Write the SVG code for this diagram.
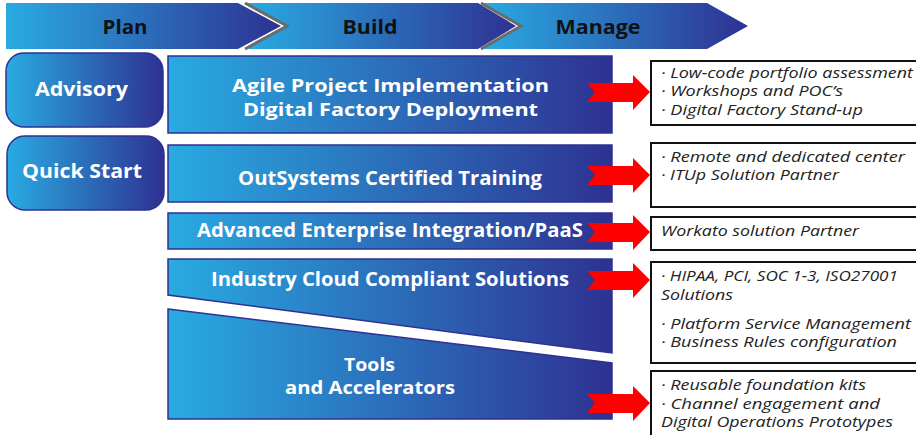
<svg xmlns="http://www.w3.org/2000/svg" width="916" height="435" viewBox="0 0 916 435">
<defs>
<linearGradient id="g" x1="0" y1="0" x2="1" y2="0">
<stop offset="0" stop-color="#29ABE2"/>
<stop offset="1" stop-color="#2E3192"/>
</linearGradient>
<path id="arr" d="M0,-9 L46,-9 L46,-17 L63,0 L46,18 L46,10 L0,10 L8,0 Z" fill="#FF0000"/>
</defs>
<style>
.hd{font-family:"Open Sans","DejaVu Sans",sans-serif;font-weight:700;font-size:20px;fill:#111;text-anchor:middle}
.bx{fill:url(#g);stroke:#2E3192;stroke-width:1.5}
.wt{font-family:"Open Sans","DejaVu Sans",sans-serif;font-weight:700;font-size:20px;fill:#fff;text-anchor:middle}
.w2{font-size:18.5px}
.nb{fill:#fff;stroke:#111;stroke-width:2}
.it{font-family:"Open Sans","DejaVu Sans",sans-serif;font-style:italic;font-size:14.5px;fill:#222}
</style>
<rect width="916" height="435" fill="#fff"/>
<g id="phases">
<polygon points="6,3 238,3 281,26 238,49 6,49" fill="url(#g)"/>
<polygon points="246,3 478,3 516,26 478,49 246,49 288,26" fill="url(#g)"/>
<polyline points="245,3 287,26 245,49" fill="none" stroke="#6b6b6b" stroke-width="3"/>
<polygon points="482,3 707,3 748,26 707,49 482,49 522,26" fill="url(#g)"/>
<polyline points="481,3 521,26 481,49" fill="none" stroke="#6b6b6b" stroke-width="3"/>
<text class="hd" x="125" y="34" textLength="45" lengthAdjust="spacingAndGlyphs">Plan</text>
<text class="hd" x="370" y="34" textLength="55" lengthAdjust="spacingAndGlyphs">Build</text>
<text class="hd" x="598" y="34" textLength="85" lengthAdjust="spacingAndGlyphs">Manage</text>
</g>
<g id="advisory">
<rect class="bx" x="6" y="53" width="157" height="74" rx="18"/>
<text class="wt" x="81.5" y="96" textLength="93" lengthAdjust="spacingAndGlyphs">Advisory</text>
</g>
<g id="quickstart">
<rect class="bx" x="7" y="136" width="157" height="74" rx="18"/>
<text class="wt" x="82" y="178" textLength="120" lengthAdjust="spacingAndGlyphs">Quick Start</text>
</g>
<g id="agile">
<rect class="bx" x="168" y="56" width="444" height="77"/>
<text class="wt w2" x="390.5" y="92" textLength="317" lengthAdjust="spacingAndGlyphs">Agile Project Implementation</text>
<text class="wt w2" x="390.5" y="116" textLength="295" lengthAdjust="spacingAndGlyphs">Digital Factory Deployment</text>
</g>
<g id="training">
<rect class="bx" x="168" y="145" width="444" height="57"/>
<text class="wt" x="390" y="185" textLength="304" lengthAdjust="spacingAndGlyphs">OutSystems Certified Training</text>
</g>
<g id="integration">
<rect class="bx" x="168" y="213" width="444" height="36"/>
<text class="wt" x="390" y="237" textLength="386" lengthAdjust="spacingAndGlyphs">Advanced Enterprise Integration/PaaS</text>
</g>
<g id="industry">
<polygon class="bx" points="168,259 612,259 612,353 168,295"/>
<text class="wt" x="390" y="286" textLength="358" lengthAdjust="spacingAndGlyphs">Industry Cloud Compliant Solutions</text>
</g>
<g id="tools">
<polygon class="bx" points="168,309 612,363 612,419 168,419"/>
<text class="wt w2" x="369.5" y="371" textLength="51" lengthAdjust="spacingAndGlyphs">Tools</text>
<text class="wt w2" x="370" y="394" textLength="170" lengthAdjust="spacingAndGlyphs">and Accelerators</text>
</g>
<g id="connectors">
<use href="#arr" x="587" y="92"/>
<use href="#arr" x="587" y="175"/>
<use href="#arr" x="587" y="232"/>
<use href="#arr" x="587" y="280"/>
<use href="#arr" x="587" y="403"/>
</g>
<g id="note1">
<rect class="nb" x="651" y="61" width="270" height="64"/>
<text class="it" x="661" y="78" textLength="252" lengthAdjust="spacingAndGlyphs">· Low-code portfolio assessment</text>
<text class="it" x="661" y="96" textLength="182" lengthAdjust="spacingAndGlyphs">· Workshops and POC’s</text>
<text class="it" x="661" y="115" textLength="202" lengthAdjust="spacingAndGlyphs">· Digital Factory Stand-up</text>
</g>
<g id="note2">
<rect class="nb" x="651" y="143" width="270" height="64"/>
<text class="it" x="661" y="162" textLength="244" lengthAdjust="spacingAndGlyphs">· Remote and dedicated center</text>
<text class="it" x="661" y="180" textLength="178" lengthAdjust="spacingAndGlyphs">· ITUp Solution Partner</text>
</g>
<g id="note3">
<rect class="nb" x="651" y="217" width="270" height="33"/>
<text class="it" x="661" y="236" textLength="198" lengthAdjust="spacingAndGlyphs">Workato solution Partner</text>
</g>
<g id="note4">
<rect class="nb" x="651" y="262" width="270" height="101"/>
<text class="it" x="661" y="281" textLength="237" lengthAdjust="spacingAndGlyphs">· HIPAA, PCI, SOC 1-3, ISO27001</text>
<text class="it" x="661" y="300" textLength="72" lengthAdjust="spacingAndGlyphs">Solutions</text>
<text class="it" x="661" y="329" textLength="250" lengthAdjust="spacingAndGlyphs">· Platform Service Management</text>
<text class="it" x="661" y="347" textLength="236" lengthAdjust="spacingAndGlyphs">· Business Rules configuration</text>
</g>
<g id="note5">
<rect class="nb" x="651" y="371" width="270" height="70"/>
<text class="it" x="661" y="390" textLength="205" lengthAdjust="spacingAndGlyphs">· Reusable foundation kits</text>
<text class="it" x="661" y="409" textLength="219" lengthAdjust="spacingAndGlyphs">· Channel engagement and</text>
<text class="it" x="661" y="427" textLength="232" lengthAdjust="spacingAndGlyphs">Digital Operations Prototypes</text>
</g>
</svg>
